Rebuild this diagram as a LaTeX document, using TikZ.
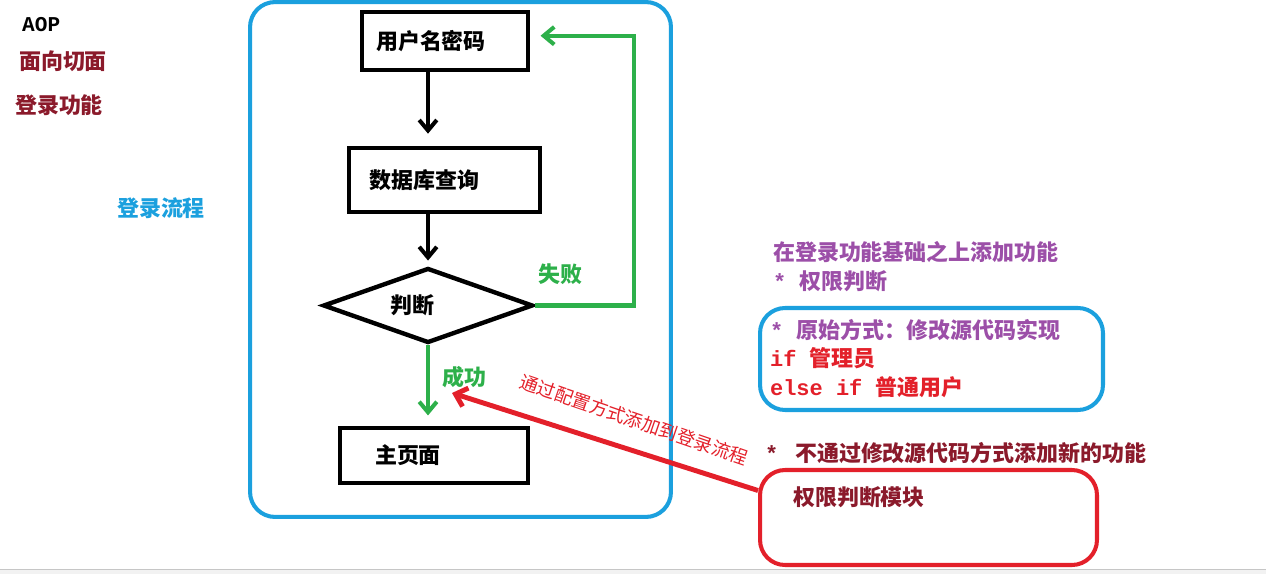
\documentclass[tikz,border=0pt]{standalone}
\usepackage{fontspec}
\setmainfont{Liberation Serif}
\newfontfamily\cjk{Noto Sans CJK SC}
\newfontfamily\mono{Liberation Mono}
\usetikzlibrary{arrows.meta, positioning, calc, shapes.geometric}
\definecolor{flowblue}{HTML}{1BA0DE}
\definecolor{okgreen}{HTML}{2DB04A}
\definecolor{darkred}{HTML}{8B1A2B}
\definecolor{notepurple}{HTML}{9C4FA8}
\definecolor{alertred}{HTML}{E3202A}
\newcommand{\asc}[1]{{\mono\bfseries #1}}

\begin{document}
\begin{tikzpicture}[
    x=0.02cm, y=-0.02cm,
    cn/.style={font=\cjk\bfseries\fontsize{12.5}{15}\selectfont, inner sep=1pt},
    box/.style={cn, rectangle, draw=black, line width=2.3pt},
    arr/.style={-{Straight Barb[length=6pt, width=10pt]}, line width=2.3pt},
    frame/.style={rectangle, rounded corners=0.5cm, line width=2.3pt}
]
\useasboundingbox (0,0) rectangle (1266,574);
% screenshot strip at the bottom
\fill[gray!10] (0,569) rectangle (1266,574);
\draw[gray!45, thin] (0,569) -- (1266,569);

% notes on the left
\node[anchor=west, font=\mono\bfseries\fontsize{12}{14}\selectfont] (aop) at (16,25) {AOP};
\node[cn, anchor=west, text=darkred] (aspect) at (17,61) {面向切面};
\node[cn, anchor=west, text=darkred] (login) at (13,105) {登录功能};
\node[cn, anchor=west, text=flowblue] (flowname) at (115,208) {登录流程};

% login flow
\node[frame, draw=flowblue, minimum width=8.42cm, minimum height=10.3cm]
      (flow) at (460.5,259.5) {};
\node[box, minimum width=3.32cm, minimum height=1.16cm] (user) at (445,41)
      {用户名密码\hspace*{0.56cm}};
\node[box, minimum width=3.82cm, minimum height=1.28cm] (data) at (444.5,180)
      {数据库查询\hspace*{0.8cm}};
\node[box, diamond, aspect=2.8, minimum width=4.2cm, minimum height=1.5cm,
      line width=2.5pt] (judge) at (428,305.5) {判断\hspace*{0.64cm}};
\node[box, minimum width=3.76cm, minimum height=1.1cm] (main) at (434,455.5)
      {主页面\hspace*{1.04cm}};
\draw[arr] (user.south -| judge) -- ([yshift=7pt]data.north -| judge);
\draw[arr] (data.south -| judge) -- ([yshift=3pt]judge.north);
\draw[arr, okgreen] (judge.south) -- ([yshift=6pt]main.north -| judge);
\draw[arr, okgreen] (judge.east) -- ++(99,0) |- ([xshift=6pt, yshift=3pt]user.east);
\node[cn, text=okgreen] (fail) at (560,274) {失败};
\node[cn, text=okgreen] (ok) at (464,377) {成功};

% notes on the right
\node[cn, anchor=west, text=notepurple] (extra) at (771,252) {在登录功能基础之上添加功能};
\node[cn, anchor=west, text=notepurple] (perm) at (771,281) {\asc{* }权限判断};
\node[frame, draw=flowblue, minimum width=6.86cm, minimum height=2.04cm]
      (orig) at (931.5,359) {};
\node[cn, anchor=west, text=notepurple] (origway) at (768,330) {\asc{* }原始方式：修改源代码实现};
\node[cn, anchor=west, text=alertred] (admin) at (768,358) {\asc{if }管理员};
\node[cn, anchor=west, text=alertred] (normal) at (768,387) {\asc{else if }普通用户};
\node[cn, anchor=west, text=darkred] (nomod) at (763,453) {\asc{* }\,不通过修改源代码方式添加新的功能};
\node[frame, draw=alertred, minimum width=6.74cm, minimum height=1.9cm]
      (module) at (928.5,517.5) {};
\node[cn, anchor=west, text=darkred] (moduletxt) at (791,497) {权限判断模块};

% configured into the flow
\coordinate (hook) at (452,393);
\draw[alertred, line width=2.8pt, -{Straight Barb[length=6pt, width=11pt]}]
      (module.171) -- (hook);
\node[rotate=-19, text=alertred, font=\cjk\fontsize{10.5}{12}\selectfont]
      (cfg) at (634,420) {通过配置方式添加到登录流程};
\end{tikzpicture}
\end{document}
